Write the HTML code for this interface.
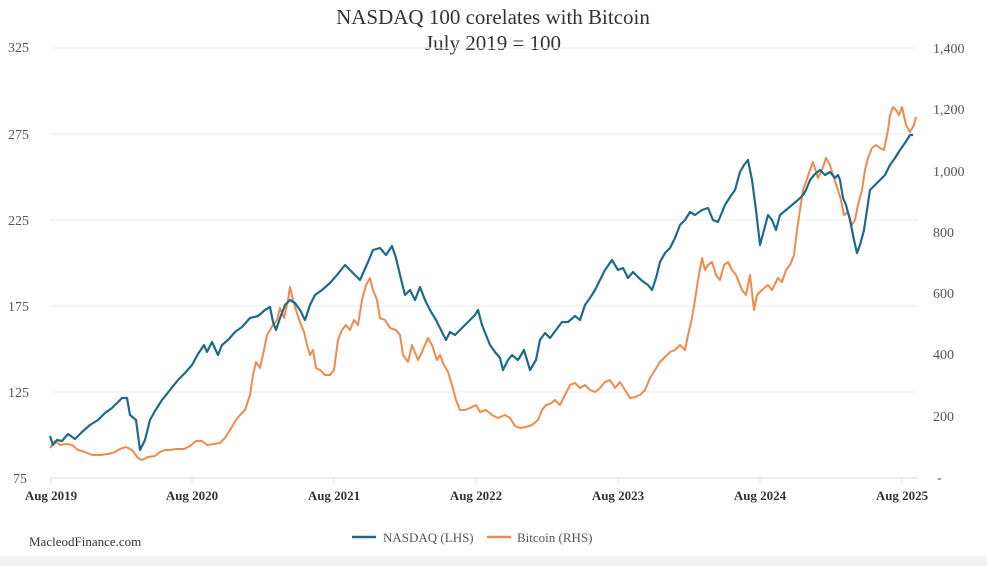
<!DOCTYPE html>
<html><head><meta charset="utf-8"><style>
html,body{margin:0;padding:0;background:#fff;}
svg{display:block;font-family:"Liberation Serif",serif;}
</style></head><body>
<svg width="987" height="566" viewBox="0 0 987 566" xmlns="http://www.w3.org/2000/svg">
<rect width="987" height="566" fill="#fff"/>
<rect x="0" y="556" width="987" height="10" fill="#f1f1f1"/>
<text x="493" y="24" font-size="21" text-anchor="middle" fill="#333">NASDAQ 100 corelates with Bitcoin</text>
<text x="493" y="50" font-size="21" text-anchor="middle" fill="#333">July 2019 = 100</text>
<g stroke="#ececec" stroke-width="1">
<line x1="50" y1="48" x2="918" y2="48"/><line x1="50" y1="134" x2="918" y2="134"/>
<line x1="50" y1="220" x2="918" y2="220"/><line x1="50" y1="306" x2="918" y2="306"/>
<line x1="50" y1="392" x2="918" y2="392"/>
</g>
<line x1="50" y1="478" x2="918" y2="478" stroke="#dcdcdc"/>
<g stroke="#dcdcdc"><line x1="51" y1="478" x2="51" y2="483"/><line x1="192" y1="478" x2="192" y2="483"/><line x1="334" y1="478" x2="334" y2="483"/><line x1="476" y1="478" x2="476" y2="483"/><line x1="618" y1="478" x2="618" y2="483"/><line x1="760" y1="478" x2="760" y2="483"/><line x1="902" y1="478" x2="902" y2="483"/></g>
<g font-size="14" fill="#555" text-anchor="start">
<text x="8" y="52">325</text><text x="8" y="139">275</text><text x="8" y="225">225</text>
<text x="8" y="311">175</text><text x="8" y="397">125</text><text x="13" y="483">75</text>
</g>
<g font-size="14" fill="#555" text-anchor="start">
<text x="933" y="53">1,400</text><text x="933" y="114">1,200</text><text x="933" y="176">1,000</text>
<text x="933" y="237">800</text><text x="933" y="298">600</text><text x="933" y="359">400</text>
<text x="933" y="421">200</text><text x="937" y="482">-</text>
</g>
<g font-size="13" fill="#333" font-weight="bold" text-anchor="middle">
<text x="51" y="500">Aug 2019</text><text x="192" y="500">Aug 2020</text><text x="334" y="500">Aug 2021</text>
<text x="476" y="500">Aug 2022</text><text x="618" y="500">Aug 2023</text><text x="760" y="500">Aug 2024</text><text x="902" y="500">Aug 2025</text>
</g>
<polyline fill="none" stroke="#f08a4b" stroke-width="2" stroke-linejoin="round" points="50,448 55,441 60,445 67,444 72,445 78,450 85,452 92,455 100,455 108,454 115,452 120,449 126,447 132,450 138,458 142,460 148,457 155,456 160,452 165,450 170,450 176,449 184,449 190,446 196,441 202,441 207,445 214,444 220,443 225,438 230,430 236,420 240,415 245,410 250,395 253,375 256,362 260,368 264,350 267,335 270,330 273,325 277,320 280,308 284,318 288,300 290,287 293,300 296,310 300,322 304,332 307,345 310,355 313,350 316,368 320,370 325,375 330,375 334,370 338,340 342,330 346,325 350,330 354,320 358,325 362,300 366,285 370,278 373,290 377,300 380,318 385,320 390,328 396,330 400,335 403,355 408,362 412,345 418,360 422,352 428,338 432,345 437,360 440,355 444,365 448,372 452,385 456,400 460,410 465,410 470,408 476,405 480,412 486,410 492,415 498,418 505,415 510,418 515,426 520,428 526,427 532,425 538,420 542,410 546,405 550,404 555,400 560,405 565,395 570,385 575,383 580,388 585,385 590,390 595,392 600,388 605,382 610,380 615,388 620,382 625,390 630,398 635,397 640,395 645,390 650,378 655,370 660,362 665,357 670,352 675,350 680,345 685,350 688,335 692,318 695,300 698,280 702,258 705,270 708,265 712,262 716,275 720,280 724,265 728,262 732,270 736,275 742,290 746,295 750,275 754,310 757,295 762,290 768,285 772,290 778,278 782,282 786,270 790,265 794,255 797,230 800,210 803,190 806,182 810,170 813,162 818,178 822,170 826,158 830,165 833,175 838,190 841,200 844,215 848,212 852,225 855,220 858,205 862,190 865,170 868,158 872,148 876,145 880,148 884,150 888,130 890,115 893,107 896,110 899,115 902,107 906,125 910,132 914,125 916,117"/>
<polyline fill="none" stroke="#1d6a8a" stroke-width="2.2" stroke-linejoin="round" points="50,436 53,445 57,440 62,441 68,434 75,439 82,432 90,425 98,420 105,413 112,408 118,402 122,398 127,398 130,415 136,420 140,450 145,440 150,420 155,411 162,400 170,390 178,380 185,373 192,365 198,354 204,345 207,352 212,342 218,355 222,345 228,340 235,332 242,327 250,318 258,316 265,310 270,307 273,322 276,330 280,318 285,305 290,300 295,303 300,310 305,320 310,305 315,295 322,290 330,283 337,275 345,265 350,270 355,275 360,280 368,262 373,250 380,248 386,255 392,246 396,258 400,275 405,295 410,290 415,300 420,287 425,300 430,310 436,320 441,330 446,340 450,332 455,335 460,330 465,325 470,320 475,315 478,310 482,325 486,335 490,345 495,352 500,358 503,370 508,360 512,355 518,360 524,350 530,370 536,360 540,340 545,333 550,338 556,330 562,322 568,322 575,316 580,320 585,305 590,298 595,290 600,280 605,270 612,260 618,270 623,268 628,278 633,272 640,279 645,283 648,285 652,290 656,278 660,262 665,253 670,248 675,238 680,225 685,220 690,212 695,215 702,210 708,208 713,220 718,222 725,205 730,197 735,190 740,172 744,165 748,160 752,180 756,210 760,245 764,230 768,215 772,220 776,230 780,215 786,210 792,205 798,200 803,195 806,190 810,180 815,174 820,170 825,175 830,172 835,178 838,175 840,180 843,198 846,205 850,220 854,240 857,253 860,245 864,230 867,210 870,190 875,185 880,180 885,175 890,165 895,158 900,150 905,143 910,135 913,135"/>
<line x1="352" y1="537" x2="376" y2="537" stroke="#1d6a8a" stroke-width="2.5"/>
<text x="383" y="542" font-size="13" fill="#555">NASDAQ (LHS)</text>
<line x1="487" y1="537" x2="511" y2="537" stroke="#f08a4b" stroke-width="2.5"/>
<text x="517" y="542" font-size="13" fill="#555">Bitcoin (RHS)</text>
<text x="29" y="546" font-size="13" fill="#333">MacleodFinance.com</text>
</svg>
</body></html>
